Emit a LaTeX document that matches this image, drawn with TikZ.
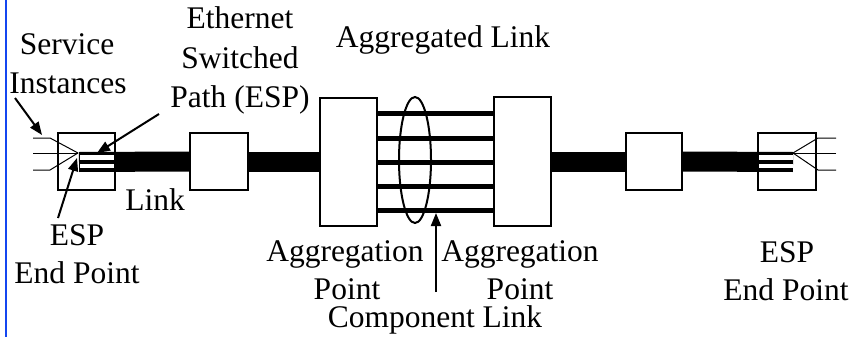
\documentclass[tikz,border=0pt]{standalone}
\usepackage{fontspec}
\newfontfamily\lblfont{Liberation Serif}
\usetikzlibrary{arrows.meta,shapes.geometric}
\definecolor{edgeblue}{RGB}{20,70,240}
\begin{document}
\begin{tikzpicture}[x=1pt,y=-1pt,
  box/.style={draw,line width=2pt,fill=white,inner sep=0pt,outer sep=0pt},
  lbl/.style={font=\lblfont\fontsize{31.5}{37}\selectfont,inner sep=0pt,anchor=base},
  link/.style={line width=20pt},
  comp/.style={line width=5pt},
  svc/.style={line width=1pt},
  stripe/.style={fill=white},
  ptr/.style={line width=2pt,-{Triangle[length=13pt,width=10pt]}}]
\useasboundingbox (0,0) rectangle (856,337);
\draw[edgeblue,line width=2pt] (6,0) -- (6,337);

% end point boxes
\node[box,minimum width=57pt,minimum height=57pt] (epL) at (86.5,161.5) {};
\node[box,minimum width=58pt,minimum height=57pt] (epR) at (787,161.5) {};

% intermediate boxes
\node[box,minimum width=58pt,minimum height=57pt] (s1) at (219,161.5) {};
\node[box,minimum width=57pt,minimum height=128pt] (aggL) at (348.5,162) {};
\node[box,minimum width=57pt,minimum height=129pt] (aggR) at (522.5,161.5) {};
\node[box,minimum width=56pt,minimum height=57pt] (s2) at (654,161.5) {};

% link bars
\coordinate (linkL) at (79,162);
\coordinate (linkR) at (793,162);
\draw[link] (linkL) -- (s1.west);
\draw[link] (s1.east) -- (aggL.west |- s1.east);
\draw[link] (aggR.east |- s2.west) -- (s2.west);
\draw[link] (s2.east) -- (linkR);
\draw[line width=2pt] (epL.north east) -- (epL.south east);
\draw[line width=2pt] (epR.north west) -- (epR.south west);

% ESP stripes
\fill[stripe] (80,155) rectangle (114,160);
\fill[stripe] (80,164) rectangle (114,168);
\fill[stripe] (759,155) rectangle (793,160);
\fill[stripe] (759,164) rectangle (793,168);

% component links
\foreach \yy in {113,138,162,186,210}
  \draw[comp] (aggL.east |- 0,\yy) -- (aggR.west |- 0,\yy);
\node[draw,line width=2pt,ellipse,inner sep=0pt,minimum width=32pt,minimum height=126pt] (bundle) at (415,160) {};

% service instances
\coordinate (cvL) at (78,153);
\coordinate (cvR) at (793,153);
\draw[svc] (33,138) -- (50,138) -- (cvL);
\draw[svc] (33,153) -- (cvL);
\draw[svc] (33,170) -- (50,170) -- (cvL);
\draw[svc] (836,138) -- (818,138) -- (cvR);
\draw[svc] (836,153) -- (cvR);
\draw[svc] (836,170) -- (818,170) -- (cvR);

% labels
\node[lbl] (svcA) at (67,55) {Service};
\node[lbl] (svcB) at (68,93) {Instances};
\node[lbl] (espA) at (240,29) {Ethernet};
\node[lbl] (espB) at (240,68) {Switched};
\node[lbl] (espC) at (240,107) {Path (ESP)};
\node[lbl] (agg) at (443,48) {Aggregated Link};
\node[lbl] (lnk) at (155,210) {Link};
\node[lbl] (eplA) at (77,245) {ESP};
\node[lbl] (eplB) at (77,283) {End Point};
\node[lbl] (aplA) at (345,261) {Aggregation};
\node[lbl] (aplB) at (347,299) {Point};
\node[lbl] (aprA) at (520,261) {Aggregation};
\node[lbl] (aprB) at (520,299) {Point};
\node[lbl] (comp) at (435,327) {Component Link};
\node[lbl] (eprA) at (787,262) {ESP};
\node[lbl] (eprB) at (786,300) {End Point};

% pointers
\coordinate (svcTail) at (15,98);
\coordinate (svcTip) at (42,135);
\coordinate (espTail) at (159,114);
\coordinate (espTip) at (97,153);
\coordinate (endTail) at (58,218);
\coordinate (endTip) at (77,158);
\coordinate (compTail) at (436,292);
\coordinate (compTip) at (436,213);
\draw[ptr] (svcTail) -- (svcTip);
\draw[ptr] (espTail) -- (espTip);
\draw[ptr] (endTail) -- (endTip);
\draw[ptr] (compTail) -- (compTip);
\end{tikzpicture}
\end{document}
